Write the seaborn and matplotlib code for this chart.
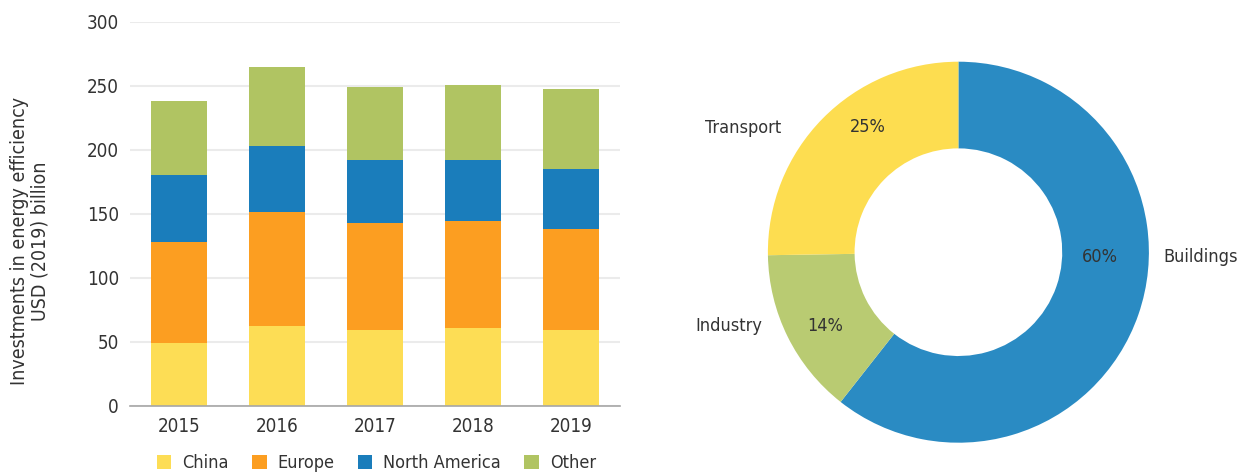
import numpy as np
import pandas as pd
import matplotlib
matplotlib.use('Agg')
import matplotlib.pyplot as plt
import seaborn as sns

# data
years = ['2015', '2016', '2017', '2018', '2019']
china = [49.5, 62.5, 59.5, 61, 59.5]
europe = [78.5, 89, 83.5, 83.5, 79]
north_america = [52.5, 52, 49, 47.5, 47]
other = [58, 61, 57.5, 59, 62.5]

sectors = ['Buildings', 'Industry', 'Transport']
shares = [60, 14, 25]

regions = ['China', 'Europe', 'North America', 'Other']
region_colors = ['#FDDD55', '#FC9E21', '#1A7DBB', '#B0C462']
sector_colors = ['#2A8BC3', '#B9CB72', '#FDDD50']

sns.set_theme(style='white')
plt.rcParams['font.family'] = ['DejaVu Sans']
plt.rcParams['font.stretch'] = 'condensed'
plt.rcParams['text.color'] = '#333333'
plt.rcParams['axes.labelcolor'] = '#333333'
plt.rcParams['xtick.color'] = '#333333'
plt.rcParams['ytick.color'] = '#333333'

FS = 13

fig = plt.figure(figsize=(12.38, 4.75), dpi=100)

# 1. stacked bars (cumulative totals drawn tallest first)
ax = fig.add_axes([0.105, 0.1453, 0.396, 0.8084])
df = pd.DataFrame({'year': years, 'China': china, 'Europe': europe,
                   'North America': north_america, 'Other': other})
cum = df[regions].cumsum(axis=1)

for name, col in zip(regions[::-1], region_colors[::-1]):
    sns.barplot(x=df['year'], y=cum[name], color=col, saturation=1,
                width=0.57, linewidth=0, errorbar=None, label=name, ax=ax)

handles, labels = ax.get_legend_handles_labels()
if ax.get_legend() is not None:
    ax.get_legend().remove()

ax.set_ylim(0, 300)
ax.set_yticks(range(0, 301, 50))
ax.set_xlabel('')
ax.set_ylabel('Investments in energy efficiency\nUSD (2019) billion', fontsize=14, linespacing=1.1)
ax.yaxis.set_label_coords(-0.165, 0.43)
ax.yaxis.grid(True, color='#ebebeb', lw=1.5)
ax.set_axisbelow(True)
for s in ['top', 'right', 'left']:
    ax.spines[s].set_visible(False)
ax.spines['bottom'].set_color('#a6a6a6')
ax.spines['bottom'].set_linewidth(1.2)
ax.tick_params(axis='both', length=0, labelsize=FS + 0.5)
ax.tick_params(axis='y', pad=8)
ax.tick_params(axis='x', pad=8)

order = [labels.index(r) for r in regions]
fig.legend([handles[i] for i in order], [labels[i] for i in order],
           loc='center', bbox_to_anchor=(0.304, 0.025), ncol=4, frameon=False,
           handlelength=0.8, handleheight=0.8, handletextpad=0.6,
           columnspacing=1.3, fontsize=FS)

# 2. donut chart
R = 190.5
cx, cy = 958.4, 252.2
ax2 = fig.add_axes([(cx - R) / 1238, (475 - cy - R) / 475, 2 * R / 1238, 2 * R / 475])
wedges, _ = ax2.pie(shares, colors=sector_colors, startangle=90, counterclock=False,
                    wedgeprops=dict(width=0.455, linewidth=0))
ax2.set_xlim(-1, 1)
ax2.set_ylim(-1, 1)

# text placement (angle in degrees, radius as fraction of outer radius)
name_pos = {'Buildings': (-1.4, 1.075, 'left'), 'Industry': (200.6, 1.10, 'right'),
            'Transport': (144.8, 1.135, 'right')}
pct_pos = {'Buildings': (-2, 0.744), 'Industry': (208.9, 0.80), 'Transport': (126, 0.81)}

for sec, val in zip(sectors, shares):
    a, r, ha = name_pos[sec]
    ax2.text(r * np.cos(np.radians(a)), r * np.sin(np.radians(a)), sec,
             ha=ha, va='center', fontsize=FS)
    a, r = pct_pos[sec]
    ax2.text(r * np.cos(np.radians(a)), r * np.sin(np.radians(a)), f'{val}%',
             ha='center', va='center', fontsize=FS)

fig.savefig('out.png', dpi=100)
